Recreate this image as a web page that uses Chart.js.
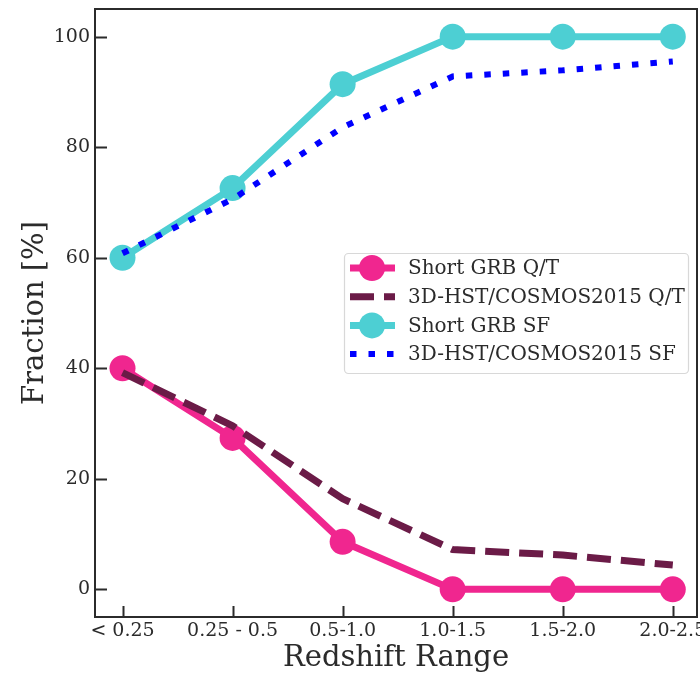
<!DOCTYPE html>
<html>
<head>
<meta charset="utf-8">
<script src="https://cdn.jsdelivr.net/npm/chart.js@4.4.1/dist/chart.umd.min.js"></script>
<style>
  html, body { margin: 0; padding: 0; background: #fff; }
  #wrap { width: 700px; height: 676px; }
</style>
</head>
<body>
<div id="wrap"><canvas id="frac-chart" width="700" height="676"></canvas></div>
<script>
// redshift bins
const zBins = ['< 0.25', '0.25 - 0.5', '0.5-1.0', '1.0-1.5', '1.5-2.0', '2.0-2.5'];

// fractions in percent
const grbQT = [40, 27.4, 8.6, 0, 0, 0];
const fieldQT = [39.2, 29.6, 16.4, 7.2, 6.2, 4.4];
const grbSF = [60, 72.6, 91.4, 100, 100, 100];
const fieldSF = [60.8, 70.6, 83.6, 92.8, 93.9, 95.5];

const yTicks = [0, 20, 40, 60, 80, 100];

const FONT = "'DejaVu Serif', 'Liberation Serif', serif";
const INK = '#2b2b2b';

function pts(arr) {
    return arr.map(function(v, i) { return {x: i, y: v}; });
}

function noPad(scale) {
    scale.paddingLeft = 0;
    scale.paddingRight = 0;
    scale.paddingTop = 0;
    scale.paddingBottom = 0;
}

// box around the axes + inward ticks
const framePlugin = {
    id: 'frame',
    afterDraw(chart) {
        const ctx = chart.ctx;
        const a = chart.chartArea;
        const xs = chart.scales.x;
        const ys = chart.scales.y;
        ctx.save();
        ctx.strokeStyle = INK;
        ctx.lineWidth = 2;
        ctx.strokeRect(a.left, a.top, a.right - a.left, a.bottom - a.top);

        ctx.beginPath();
        yTicks.forEach(function(v) {
            const py = Math.round(ys.getPixelForValue(v)) + 0.5;
            ctx.moveTo(a.left, py);
            ctx.lineTo(a.left + 12, py);
        });
        zBins.forEach(function(lbl, i) {
            const px = Math.round(xs.getPixelForValue(i)) + 0.5;
            ctx.moveTo(px, a.bottom);
            ctx.lineTo(px, a.bottom - 11);
        });
        ctx.stroke();
        ctx.restore();
    }
};

// legend box inside the axes, line + marker handles
const legendPlugin = {
    id: 'boxLegend',
    afterDraw(chart) {
        const ctx = chart.ctx;
        const bx = 344, by = 253, bw = 344, bh = 120;
        ctx.save();
        ctx.fillStyle = 'rgba(255,255,255,0.85)';
        ctx.strokeStyle = '#d8d8d8';
        ctx.lineWidth = 1.2;
        ctx.beginPath();
        ctx.roundRect(bx + 0.5, by + 0.5, bw, bh, 4);
        ctx.fill();
        ctx.stroke();

        chart.data.datasets.forEach(function(ds, i) {
            const cy = 268 + i * 28.7;
            ctx.save();
            ctx.strokeStyle = ds.borderColor;
            ctx.lineWidth = ds.borderWidth;
            ctx.setLineDash(ds.borderDash || []);
            ctx.beginPath();
            ctx.moveTo(350, cy);
            ctx.lineTo(395, cy);
            ctx.stroke();
            ctx.restore();
            if (ds.pointRadius > 0) {
                ctx.fillStyle = ds.pointBackgroundColor;
                ctx.beginPath();
                ctx.arc(372, cy, ds.pointRadius, 0, Math.PI * 2);
                ctx.fill();
            }
            ctx.fillStyle = INK;
            ctx.font = '20px ' + FONT;
            ctx.textBaseline = 'middle';
            ctx.textAlign = 'left';
            ctx.fillText(ds.label, 408, cy + 1);
        });
        ctx.restore();
    }
};

const ctx = document.getElementById('frac-chart').getContext('2d');
new Chart(ctx, {
    type: 'line',
    data: {
        datasets: [{
            label: 'Short GRB Q/T',
            data: pts(grbQT),
            borderColor: '#f0268f',
            borderWidth: 7,
            pointRadius: 13,
            pointBackgroundColor: '#f0268f',
            pointBorderWidth: 0,
            order: 1
        }, {
            label: '3D-HST/COSMOS2015 Q/T',
            data: pts(fieldQT),
            borderColor: '#6b1b47',
            borderWidth: 7,
            borderDash: [24, 10],
            pointRadius: 0,
            order: 0
        }, {
            label: 'Short GRB SF',
            data: pts(grbSF),
            borderColor: '#4dcfd3',
            borderWidth: 7,
            pointRadius: 13,
            pointBackgroundColor: '#4dcfd3',
            pointBorderWidth: 0,
            order: 1
        }, {
            label: '3D-HST/COSMOS2015 SF',
            data: pts(fieldSF),
            borderColor: '#0000ff',
            borderWidth: 6,
            borderDash: [6.5, 12],
            pointRadius: 0,
            order: 0
        }]
    },
    options: {
        responsive: false,
        animation: false,
        events: [],
        layout: {
            autoPadding: false,
            padding: {top: 9, right: 3, left: 0, bottom: 0}
        },
        plugins: {
            legend: {display: false},
            tooltip: {enabled: false}
        },
        scales: {
            x: {
                type: 'linear',
                min: -0.25,
                max: 5.22,
                grid: {display: false, drawTicks: false},
                border: {display: false},
                afterBuildTicks: function(scale) {
                    scale.ticks = zBins.map(function(l, i) { return {value: i}; });
                },
                afterFit: function(scale) {
                    scale.height = 59;
                    noPad(scale);
                },
                ticks: {
                    autoSkip: false,
                    maxRotation: 0,
                    padding: 3,
                    color: INK,
                    font: {family: FONT, size: 19},
                    callback: function(v) { return zBins[v]; }
                },
                title: {
                    display: true,
                    text: 'Redshift Range',
                    color: INK,
                    font: {family: FONT, size: 29},
                    padding: {top: 0, bottom: 0}
                }
            },
            y: {
                min: -5,
                max: 105,
                grid: {display: false, drawTicks: false},
                border: {display: false},
                afterBuildTicks: function(scale) {
                    scale.ticks = yTicks.map(function(v) { return {value: v}; });
                },
                afterFit: function(scale) {
                    scale.width = 95;
                    noPad(scale);
                },
                ticks: {
                    padding: 5,
                    color: INK,
                    font: {family: FONT, size: 19}
                },
                title: {
                    display: true,
                    text: 'Fraction [%]',
                    color: INK,
                    font: {family: FONT, size: 29},
                    padding: {top: 18, bottom: 0}
                }
            }
        }
    },
    plugins: [framePlugin, legendPlugin]
});
</script>
</body>
</html>
